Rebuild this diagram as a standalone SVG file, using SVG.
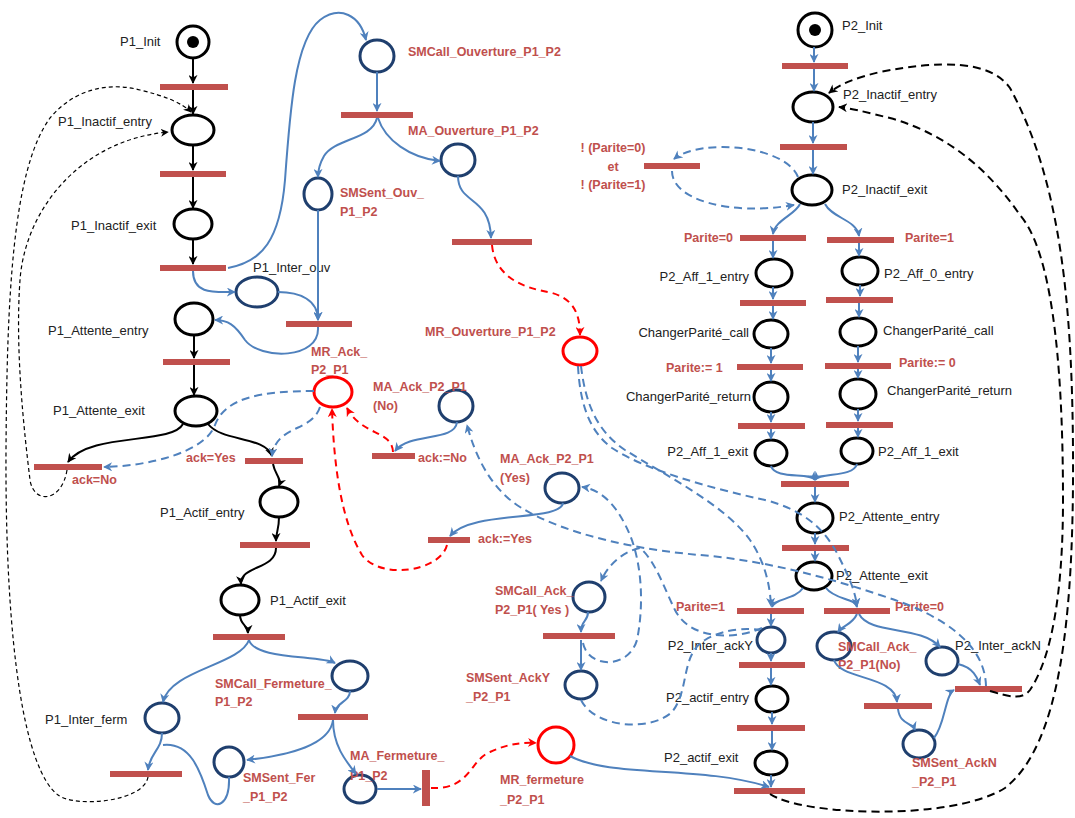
<svg xmlns="http://www.w3.org/2000/svg" width="1075" height="818" viewBox="0 0 1075 818">
<style>
.p{fill:none;stroke:#000;stroke-width:3}
.pb{fill:none;stroke:#1F3F6E;stroke-width:3}
.pr{fill:none;stroke:#FF0000;stroke-width:3}
.t{fill:#C0504D}
.lb{font-family:"Liberation Sans",Arial,sans-serif;font-size:13px;fill:#222}
.lr{font-family:"Liberation Sans",Arial,sans-serif;font-size:12.5px;font-weight:bold;fill:#C0504D}
.e{text-anchor:end}
.m{text-anchor:middle}
.ak{fill:none;stroke:#000;stroke-width:2}
.ab{fill:none;stroke:#4F81BD;stroke-width:2}
.bd{fill:none;stroke:#4F81BD;stroke-width:2;stroke-dasharray:8,5}
.rd{fill:none;stroke:#FF0000;stroke-width:2;stroke-dasharray:7,5}
.kd{fill:none;stroke:#000;stroke-width:1.2;stroke-dasharray:4,3}
.kd2{fill:none;stroke:#000;stroke-width:2;stroke-dasharray:8,5}
</style>
<defs>
<marker id="mk" viewBox="0 0 10 10" refX="9" refY="5" markerWidth="9" markerHeight="9" markerUnits="userSpaceOnUse" orient="auto"><path d="M0,0 L10,5 L0,10 L3,5 z" fill="#000"/></marker>
<marker id="mb" viewBox="0 0 10 10" refX="9" refY="5" markerWidth="9" markerHeight="9" markerUnits="userSpaceOnUse" orient="auto"><path d="M0,0 L10,5 L0,10 L3,5 z" fill="#4F81BD"/></marker>
<marker id="mr" viewBox="0 0 10 10" refX="9" refY="5" markerWidth="9" markerHeight="9" markerUnits="userSpaceOnUse" orient="auto"><path d="M0,0 L10,5 L0,10 L3,5 z" fill="#FF0000"/></marker>
<marker id="mt" viewBox="0 0 10 10" refX="9" refY="5" markerWidth="8" markerHeight="8" markerUnits="userSpaceOnUse" orient="auto"><path d="M0,0 L10,5 L0,10 L3,5 z" fill="#000"/></marker>
</defs>
<rect width="1075" height="818" fill="#fff"/>
<g id="nodes">
<g id="P1_Init"><circle class="p" cx="193" cy="42" r="16"/><circle cx="193" cy="42" r="6" fill="#000"/><text class="lb" x="120" y="46">P1_Init</text></g>
<g id="P1_Inactif_entry"><ellipse class="p" cx="193" cy="130" rx="21" ry="15"/><text class="lb" x="58" y="126">P1_Inactif_entry</text></g>
<g id="P1_Inactif_exit"><ellipse class="p" cx="193" cy="224" rx="19" ry="15"/><text class="lb" x="71" y="230">P1_Inactif_exit</text></g>
<g id="P1_Inter_ouv"><ellipse class="pb" cx="257" cy="292" rx="21" ry="15"/><text class="lb" x="253" y="272">P1_Inter_ouv</text></g>
<g id="P1_Attente_entry"><ellipse class="p" cx="194" cy="319" rx="19" ry="16"/><text class="lb" x="48" y="335">P1_Attente_entry</text></g>
<g id="P1_Attente_exit"><ellipse class="p" cx="196" cy="411" rx="21" ry="15"/><text class="lb" x="53" y="415">P1_Attente_exit</text></g>
<g id="P1_Actif_entry"><ellipse class="p" cx="279" cy="502" rx="19" ry="15"/><text class="lb" x="160" y="517">P1_Actif_entry</text></g>
<g id="P1_Actif_exit"><ellipse class="p" cx="240" cy="600" rx="19" ry="15"/><text class="lb" x="270" y="605">P1_Actif_exit</text></g>
<g id="P1_Inter_ferm"><ellipse class="pb" cx="162" cy="718" rx="17" ry="15"/><text class="lb" x="45" y="724">P1_Inter_ferm</text></g>
<g id="SMCall_Ouverture_P1_P2"><ellipse class="pb" cx="377" cy="56" rx="17" ry="16"/><text class="lr" x="408" y="56">SMCall_Ouverture_P1_P2</text></g>
<g id="MA_Ouverture_P1_P2"><ellipse class="pb" cx="458" cy="160" rx="17" ry="16"/><text class="lr" x="408" y="135">MA_Ouverture_P1_P2</text></g>
<g id="SMSent_Ouv_P1_P2"><ellipse class="pb" cx="318" cy="194" rx="14" ry="16"/><text class="lr" x="340" y="197">SMSent_Ouv_</text><text class="lr" x="340" y="216">P1_P2</text></g>
<g id="MR_Ouverture_P1_P2"><ellipse class="pr" cx="580" cy="351" rx="17" ry="14"/><text class="lr" x="425" y="336">MR_Ouverture_P1_P2</text></g>
<g id="MR_Ack_P2_P1"><ellipse class="pr" cx="333" cy="392" rx="19" ry="15"/><text class="lr" x="311" y="356">MR_Ack_</text><text class="lr" x="311" y="374">P2_P1</text></g>
<g id="MA_Ack_P2_P1_No"><ellipse class="pb" cx="456" cy="406" rx="17" ry="16"/><text class="lr" x="373" y="391">MA_Ack_P2_P1</text><text class="lr" x="373" y="410">(No)</text></g>
<g id="MA_Ack_P2_P1_Yes"><ellipse class="pb" cx="562" cy="488" rx="17" ry="15"/><text class="lr" x="500" y="463">MA_Ack_P2_P1</text><text class="lr" x="500" y="482">(Yes)</text></g>
<g id="SMCall_Ack_P2_P1_Yes"><ellipse class="pb" cx="589" cy="597" rx="16" ry="15"/><text class="lr" x="495" y="595">SMCall_Ack_</text><text class="lr" x="495" y="614">P2_P1( Yes )</text></g>
<g id="SMSent_AckY_P2_P1"><ellipse class="pb" cx="581" cy="685" rx="16" ry="14"/><text class="lr" x="466" y="682">SMSent_AckY</text><text class="lr" x="466" y="701">_P2_P1</text></g>
<g id="SMCall_Fermeture_P1_P2"><ellipse class="pb" cx="350" cy="676" rx="18" ry="15"/><text class="lr" x="215" y="688">SMCall_Fermeture_</text><text class="lr" x="215" y="706">P1_P2</text></g>
<g id="SMSent_Fer_P1_P2"><ellipse class="pb" cx="229" cy="762" rx="15" ry="15"/><text class="lr" x="243" y="782">SMSent_Fer</text><text class="lr" x="243" y="801">_P1_P2</text></g>
<g id="MA_Fermeture_P1_P2"><ellipse class="pb" cx="360" cy="789" rx="16" ry="14"/><text class="lr" x="350" y="760">MA_Fermeture_</text><text class="lr" x="350" y="780">P1_P2</text></g>
<g id="MR_fermeture_P2_P1"><ellipse class="pr" cx="556" cy="745" rx="18" ry="18"/><text class="lr" x="500" y="784">MR_fermeture</text><text class="lr" x="500" y="804">_P2_P1</text></g>
<g id="P2_Init"><circle class="p" cx="815" cy="30" r="17"/><circle cx="815" cy="30" r="6" fill="#000"/><text class="lb" x="842" y="30">P2_Init</text></g>
<g id="P2_Inactif_entry"><ellipse class="p" cx="813" cy="107" rx="20" ry="15"/><text class="lb" x="843" y="99">P2_Inactif_entry</text></g>
<g id="P2_Inactif_exit"><ellipse class="p" cx="812" cy="190" rx="20" ry="15"/><text class="lb" x="842" y="194">P2_Inactif_exit</text></g>
<g id="P2_Aff_1_entry"><ellipse class="p" cx="774" cy="273" rx="18" ry="14"/><text class="lb e" x="749" y="281">P2_Aff_1_entry</text></g>
<g id="P2_Aff_0_entry"><ellipse class="p" cx="860" cy="271" rx="18" ry="14"/><text class="lb" x="884" y="278">P2_Aff_0_entry</text></g>
<g id="ChangerParite_call_1"><ellipse class="p" cx="771" cy="334" rx="17" ry="14"/><text class="lb e" x="749" y="337">ChangerParité_call</text></g>
<g id="ChangerParite_call_0"><ellipse class="p" cx="858" cy="332" rx="18" ry="14"/><text class="lb" x="883" y="335">ChangerParité_call</text></g>
<g id="ChangerParite_return_1"><ellipse class="p" cx="771" cy="397" rx="17" ry="15"/><text class="lb e" x="751" y="401">ChangerParité_return</text></g>
<g id="ChangerParite_return_0"><ellipse class="p" cx="858" cy="394" rx="18" ry="15"/><text class="lb" x="887" y="395">ChangerParité_return</text></g>
<g id="P2_Aff_1_exit_L"><ellipse class="p" cx="771" cy="453" rx="16" ry="13"/><text class="lb e" x="748" y="456">P2_Aff_1_exit</text></g>
<g id="P2_Aff_1_exit_R"><ellipse class="p" cx="857" cy="451" rx="16" ry="13"/><text class="lb" x="878" y="456">P2_Aff_1_exit</text></g>
<g id="P2_Attente_entry"><ellipse class="p" cx="815" cy="518" rx="18" ry="15"/><text class="lb" x="839" y="521">P2_Attente_entry</text></g>
<g id="P2_Attente_exit"><ellipse class="p" cx="814" cy="576" rx="18" ry="14"/><text class="lb" x="836" y="580">P2_Attente_exit</text></g>
<g id="P2_Inter_ackY"><ellipse class="pb" cx="771" cy="640" rx="14" ry="13"/><text class="lb e" x="753" y="650">P2_Inter_ackY</text></g>
<g id="P2_actif_entry"><ellipse class="p" cx="772" cy="699" rx="16" ry="13"/><text class="lb" x="666" y="702">P2_actif_entry</text></g>
<g id="P2_actif_exit"><ellipse class="p" cx="771" cy="763" rx="16" ry="12"/><text class="lb" x="664" y="762">P2_actif_exit</text></g>
<g id="SMCall_Ack_P2_P1_No"><ellipse class="pb" cx="834" cy="646" rx="17" ry="14"/><text class="lr" x="838" y="651">SMCall_Ack_</text><text class="lr" x="838" y="669">P2_P1(No)</text></g>
<g id="P2_Inter_ackN"><ellipse class="pb" cx="942" cy="661" rx="16" ry="14"/><text class="lb" x="955" y="650">P2_Inter_ackN</text></g>
<g id="SMSent_AckN_P2_P1"><ellipse class="pb" cx="919" cy="744" rx="16" ry="14"/><text class="lr" x="912" y="767">SMSent_AckN</text><text class="lr" x="912" y="786">_P2_P1</text></g>
<g id="transitions">
<rect class="t" x="160" y="84" width="68" height="6"/>
<rect class="t" x="160" y="171" width="66" height="6"/>
<rect class="t" x="160" y="265" width="66" height="6"/>
<rect class="t" x="286" y="321" width="66" height="6"/>
<rect class="t" x="163" y="359" width="67" height="6"/>
<g id="t_ackNo"><rect class="t" x="34" y="464" width="68" height="6"/><text class="lr" x="72" y="484">ack=No</text></g>
<g id="t_ackYes"><rect class="t" x="245" y="458" width="58" height="6"/><text class="lr" x="186" y="462">ack=Yes</text></g>
<rect class="t" x="240" y="542" width="70" height="6"/>
<rect class="t" x="213" y="634" width="72" height="6"/>
<rect class="t" x="298" y="714" width="70" height="6"/>
<rect class="t" x="110" y="771" width="72" height="6"/>
<rect class="t" x="422" y="770" width="8" height="36"/>
<rect class="t" x="341" y="112" width="72" height="6"/>
<rect class="t" x="452" y="239" width="80" height="6"/>
<g id="t_ack_No_set"><rect class="t" x="372" y="453" width="43" height="6"/><text class="lr" x="418" y="462">ack:=No</text></g>
<g id="t_ack_Yes_set"><rect class="t" x="428" y="537" width="42" height="6"/><text class="lr" x="478" y="543">ack:=Yes</text></g>
<rect class="t" x="543" y="633" width="72" height="6"/>
<rect class="t" x="782" y="63" width="66" height="6"/>
<rect class="t" x="780" y="144" width="67" height="6"/>
<g id="t_neg"><rect class="t" x="644" y="163" width="56" height="6"/><text class="lr m" x="613" y="152">! (Parite=0)</text><text class="lr m" x="613" y="171">et</text><text class="lr m" x="613" y="189">! (Parite=1)</text></g>
<g id="t_par0"><rect class="t" x="740" y="235" width="66" height="6"/><text class="lr e" x="733" y="242">Parite=0</text></g>
<g id="t_par1"><rect class="t" x="827" y="237" width="67" height="6"/><text class="lr" x="905" y="242">Parite=1</text></g>
<rect class="t" x="740" y="300" width="66" height="6"/>
<rect class="t" x="826" y="297" width="67" height="6"/>
<g id="t_set1"><rect class="t" x="737" y="364" width="66" height="6"/><text class="lr" x="666" y="372">Parite:= 1</text></g>
<g id="t_set0"><rect class="t" x="825" y="363" width="66" height="6"/><text class="lr" x="899" y="367">Parite:= 0</text></g>
<rect class="t" x="738" y="423" width="67" height="6"/>
<rect class="t" x="826" y="422" width="67" height="6"/>
<rect class="t" x="781" y="481" width="68" height="6"/>
<rect class="t" x="782" y="545" width="67" height="6"/>
<g id="t_apar1"><rect class="t" x="737" y="608" width="67" height="6"/><text class="lr" x="676" y="611">Parite=1</text></g>
<g id="t_apar0"><rect class="t" x="824" y="608" width="66" height="6"/><text class="lr" x="895" y="611">Parite=0</text></g>
<rect class="t" x="739" y="662" width="66" height="6"/>
<rect class="t" x="737" y="725" width="68" height="6"/>
<rect class="t" x="734" y="788" width="71" height="6"/>
<rect class="t" x="864" y="703" width="68" height="6"/>
<rect class="t" x="955" y="686" width="67" height="6"/>
</g>
</g>
<g id="connectors">
<g marker-end="url(#mk)">
<path class="ak" d="M193,58 V83"/>
<path class="ak" d="M193,90 V114"/>
<path class="ak" d="M193,145 V170"/>
<path class="ak" d="M193,177 V208"/>
<path class="ak" d="M193,239 V264"/>
<path class="ak" d="M194,335 V358"/>
<path class="ak" d="M194,365 V395"/>
<path class="ak" d="M183,424 C172,445 90,432 68,462"/>
<path class="ak" d="M208,424 C222,442 265,436 272,456"/>
<path class="ak" d="M273,464 C275,475 282,478 279,486"/>
<path class="ak" d="M279,517 C279,530 276,532 276,541"/>
<path class="ak" d="M276,548 C276,570 240,565 241,584"/>
<path class="ak" d="M240,615 C240,625 248,625 248,633"/>
</g>
<g marker-end="url(#mb)">
<path class="ab" d="M193,271 C193,295 215,292 235,292"/>
<path class="ab" d="M228,268 C262,262 280,240 285,180 C290,110 295,40 320,20 C340,5 360,15 366,40"/>
<path class="ab" d="M278,292 C300,292 318,300 318,320"/>
<path class="ab" d="M318,210 V320"/>
<path class="ab" d="M318,327 C320,360 260,360 245,340 C235,325 228,320 215,320"/>
<path class="ab" d="M377,72 V111"/>
<path class="ab" d="M377,118 C372,140 335,138 324,156 C320,163 318,170 318,177"/>
<path class="ab" d="M378,118 C385,140 410,158 440,161"/>
<path class="ab" d="M458,176 C458,205 490,195 491,238"/>
<path class="ab" d="M457,422 C455,442 410,432 395,451"/>
<path class="ab" d="M563,503 C560,522 472,510 450,536"/>
<path class="ab" d="M588,612 C588,622 581,620 581,632"/>
<path class="ab" d="M581,640 V670"/>
<path class="ab" d="M249,640 C255,660 320,655 335,663"/>
<path class="ab" d="M249,640 C240,665 170,670 163,702"/>
<path class="ab" d="M350,691 C350,702 336,702 335,713"/>
<path class="ab" d="M333,720 C330,745 290,755 247,760"/>
<path class="ab" d="M333,720 C333,745 345,760 356,774"/>
<path class="ab" d="M162,733 C162,750 150,752 148,770"/>
<path class="ab" d="M377,789 H421"/>
<path class="ab" d="M570,756 C610,778 700,765 769,787"/>
<path class="ab" d="M814,47 V62"/>
<path class="ab" d="M814,69 V91"/>
<path class="ab" d="M813,122 V143"/>
<path class="ab" d="M813,150 V174"/>
<path class="ab" d="M800,204 C795,215 775,220 773,234"/>
<path class="ab" d="M825,204 C832,218 857,220 859,236"/>
<path class="ab" d="M773,241 V258"/>
<path class="ab" d="M859,243 V256"/>
<path class="ab" d="M773,287 V299"/>
<path class="ab" d="M773,306 V319"/>
<path class="ab" d="M860,285 V296"/>
<path class="ab" d="M859,303 V317"/>
<path class="ab" d="M771,348 V363"/>
<path class="ab" d="M771,370 V381"/>
<path class="ab" d="M858,346 V362"/>
<path class="ab" d="M858,369 V378"/>
<path class="ab" d="M771,412 V422"/>
<path class="ab" d="M771,429 V439"/>
<path class="ab" d="M858,409 V421"/>
<path class="ab" d="M858,428 V437"/>
<path class="ab" d="M771,466 C775,480 810,472 815,480"/>
<path class="ab" d="M857,464 C853,478 820,472 815,480"/>
<path class="ab" d="M815,487 V502"/>
<path class="ab" d="M815,533 V544"/>
<path class="ab" d="M815,551 V561"/>
<path class="ab" d="M803,588 C795,600 775,598 772,607"/>
<path class="ab" d="M826,588 C835,600 855,598 857,607"/>
<path class="ab" d="M771,614 V626"/>
<path class="ab" d="M771,653 V661"/>
<path class="ab" d="M771,668 V685"/>
<path class="ab" d="M772,712 V724"/>
<path class="ab" d="M772,731 V750"/>
<path class="ab" d="M771,775 V787"/>
<path class="ab" d="M857,614 C852,625 843,625 838,632"/>
<path class="ab" d="M859,614 C870,635 920,625 940,647"/>
<path class="ab" d="M834,660 C840,680 895,675 897,702"/>
<path class="ab" d="M898,709 C900,725 912,722 915,730"/>
<path class="ab" d="M934,738 C945,725 945,695 954,690"/>
<path class="ab" d="M958,664 C975,668 978,680 980,685"/>
<path class="bd" d="M798,177 C785,145 700,138 674,159"/>
<path class="bd" d="M672,171 C672,200 730,216 794,205"/>
<path class="bd" d="M314,391 C260,391 225,398 215,425 C205,452 150,466 104,467"/>
<path class="bd" d="M320,407 C312,432 276,425 272,456"/>
<path class="bd" d="M581,366 C585,400 595,430 625,450 C665,475 725,505 750,540 C765,562 770,585 771,606"/>
<path class="bd" d="M578,366 C580,405 590,432 612,448 C645,470 710,488 765,500 C805,510 825,530 838,555 C848,575 855,590 857,606"/>
<path class="bd" d="M986,686 C985,645 945,615 880,595 C820,575 760,560 700,555 C640,550 565,535 520,507 C490,488 475,455 467,425"/>
<path class="bd" d="M583,643 C588,668 628,670 637,640 C644,605 642,565 630,535 C618,507 603,490 582,487"/>
<path class="bd" d="M762,628 C735,640 690,640 675,610 C665,590 655,560 640,548 C622,552 608,565 601,581"/>
</g>
<path class="ab" d="M229,777 C230,805 215,812 208,795 C200,770 190,742 163,745"/>
<path class="bd" d="M581,700 C595,728 650,732 672,712 C690,690 680,655 705,640 C725,628 748,628 760,630"/>
<g marker-end="url(#mr)">
<path class="rd" d="M492,245 C495,278 525,288 548,292 C572,297 580,312 580,335"/>
<path class="rd" d="M393,452 C392,430 362,436 347,408"/>
<path class="rd" d="M447,545 C440,572 380,580 362,555 C342,522 334,470 332,409"/>
<path class="rd" d="M431,788 C470,790 470,760 490,752 C505,745 520,742 536,743"/>
</g>
<g marker-end="url(#mt)">
<path class="kd" d="M67,470 C62,502 34,505 30,480 C24,430 15,350 20,280 C25,210 80,140 168,132"/>
<path class="kd" d="M148,777 C144,802 75,808 58,795 C25,770 5,650 6,450 C7,300 12,170 50,118 C75,88 110,82 140,90 C165,96 182,103 191,112"/>
</g>
<g marker-end="url(#mk)">
<path class="kd2" d="M770,794 C800,815 950,822 1005,788 C1060,745 1074,620 1073,450 C1072,300 1060,180 1010,88 C990,60 940,60 880,72 C855,78 840,84 829,93"/>
<path class="kd2" d="M990,691 C1010,697 1022,700 1030,690 C1050,660 1063,600 1063,500 C1063,350 1050,250 1020,215 C990,172 950,135 890,118 C865,112 850,108 839,107"/>
</g>
</g>
</svg>
